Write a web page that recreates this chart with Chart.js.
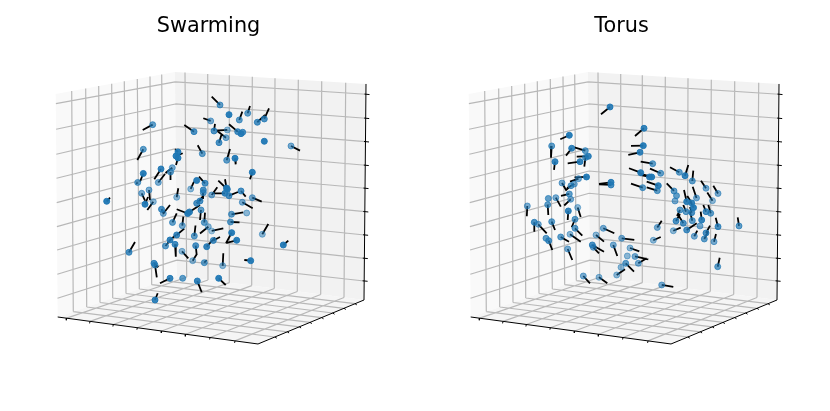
<!DOCTYPE html>
<html>
<head>
<meta charset="utf-8">
<title>Swarming and Torus</title>
<script src="https://cdn.jsdelivr.net/npm/chart.js@4/dist/chart.umd.min.js"></script>
<style>
  html, body { margin: 0; padding: 0; background: #ffffff; overflow: hidden; }
  canvas { display: block; float: left; }
</style>
</head>
<body>
<canvas id="swarmChart" width="417" height="411"></canvas>
<canvas id="torusChart" width="409" height="411"></canvas>
<script>
// values, in projected plot units
const swarmHeadX = [152.7,143.3,143.3,137.7,161,158.3,172.3,170.5,178,176,178,194,202.3,210.7,214,219,226,227.3,220,229,239.3,247.7,257.3,264.3,237.7,241,242.7,264.3,291,226.7,235,252.3,227.3,226.5,225,229,211.7,241,252.3,242.3,190.7,196.7,205,203.3,203.3,176.7,149,141.7,145,153.3,161.5,163.3,172.5,182.3,187.7,189.5,200,196.7,201,204.3,208.3,211.7,194.3,195.7,192.7,206.7,213.3,204.3,176.7,170,165.5,175,182,129,155,154,155,170,182.7,197.3,218.7,250.7,222.7,283.3,262.3,236.7,231.7,231.5,246.7,230.5,106.7];
const swarmHeadY = [124.7,149.3,173.5,182.5,169,182.5,167.7,172,152,156,158,131.7,153.7,121,131,142.7,137.7,130,105,114.7,120,113.3,122.3,119,131.7,133.7,132.3,141.3,146,160.3,158.3,172.3,189.3,188,193.3,195.7,195,191,197.7,202.3,189,180.5,183.3,190,192.7,197.3,190,193.3,204.3,201.7,209.3,213.5,222.5,225.7,213.5,212,201,203.3,210,222.5,226.7,231,236,245.7,260.7,246.7,240.5,262.7,235,240,246,244.3,251.3,252.3,300,263.3,265,278.3,278.3,281,278.3,260.7,265.7,245,234.3,240.3,232.7,214.3,213,222,201.3];
const swarmTailX = [142.7,137.3,140,137,154.3,165,165.5,170.5,175,182.7,176,184.3,197.7,203.3,215,221.7,217.3,216.7,211.7,229,242.3,250,265,269,229,241,242.7,264.3,300,230,235.7,250,218.3,225,213.3,238,217.3,245.7,261.7,252.7,194,196.7,199,203.3,203,178.3,150,145,148,147.3,164,170,176.7,183.3,176.7,200,203,203,200,205,200,223.3,195.5,196.7,196.7,215,220,206.7,184.3,176,171.7,175.8,188.3,135,157.7,158.3,156.8,160,182.7,201.7,225.7,244.3,223.3,288.3,268.3,226.5,226,243.3,246.7,239.5,110];
const swarmTailY = [130,160,181.7,183,179.3,174,173,180,149.3,153.3,165,125,145.3,118.3,124,134,131,130.7,96.7,114.7,111.7,106,115,108.3,124.3,133.7,132.3,141.3,150.7,149,164.3,179.3,180.7,179.3,193.3,192,187.3,196.7,201.7,208.3,181.7,180.5,176.7,190,199,188.3,200,200.7,197,210,214,205,213.3,216.7,209.3,205,196,196.5,220,212.7,233.5,228.5,225.5,255,254.3,237.5,237,260,228.7,235,238.3,256.7,258.3,242,293.3,267.3,277.3,283.3,278.3,292.3,285,260,253.3,240.7,224,243,243.3,212.3,213,222.3,197.7];
const swarmAlpha = [0.7,0.7,0.95,0.7,0.9,0.6,0.6,0.7,0.95,0.95,0.95,0.8,0.7,0.6,0.8,0.8,0.6,0.5,0.7,0.95,0.7,0.7,0.8,0.8,0.8,0.9,0.8,0.95,0.6,0.7,0.95,0.95,0.95,0.95,0.9,0.8,0.6,0.8,0.6,0.6,0.5,0.95,0.8,0.8,0.7,0.5,0.6,0.6,0.95,0.5,0.8,0.6,0.7,0.6,0.95,0.9,0.8,0.8,0.7,0.7,0.5,0.4,0.7,0.8,0.5,0.9,0.8,0.7,0.85,0.9,0.7,0.85,0.5,0.8,0.9,0.8,0.7,0.9,0.7,0.9,0.95,0.95,0.5,0.95,0.5,0.95,0.95,0.7,0.5,0.7,0.95];

const torusHeadX = [610,569.3,551.7,571.7,585.3,588.3,585.5,580,555,586.5,578.5,574.3,571,562,611,611,569.3,570.7,548.3,547.7,555.8,527.3,577.7,568.3,575,534.3,538.3,551.7,575,570,560.7,546,548.7,567.7,603.3,596,621.7,592.3,593.3,613.3,630,627.3,635,638.3,625.7,621,616.7,583.3,599,644,643.3,640,652.7,660.7,640.7,651.7,649.5,658.3,657.3,642.7,679.3,685,692.3,706,718,712.5,674,676.5,675,686.7,696.5,691.7,693.5,691.7,680,686,706,710.7,657.3,676,683.3,692.3,701.7,700,686.7,673.3,694.3,706,704.3,718,714,739,653.3,717.7,661.7];
const torusHeadY = [107,135.3,146,148.3,150.7,156.3,157.5,161.7,161.7,177,178.7,184,185.7,183,182.3,185,194,199.3,198.5,204.7,197.7,206,207.5,211,219.3,222.3,224.3,221.7,228.3,234.3,237,238.3,240.7,249,228.3,235,238.3,245,247.3,245,248,256,256.5,263.3,263.3,267.3,275,276,277.3,128.3,145.7,152.3,163.7,173.3,172.7,177,177,185.7,190.7,187.7,172.3,175.7,181,188.3,193.5,200.7,191,195.7,201,201.7,198,203,207.7,212.7,210,211.7,211.7,213.3,227.5,221,223.3,220.7,220,226,230,230.8,236.3,233,239,226.7,241.7,226,240.3,266.7,285];
const torusTailX = [601,560.3,551,566,574.3,576.7,584.3,567.7,554,574.5,570,567,565.5,566.5,599,599,561,564.2,548.3,548.3,560.8,526.8,580.7,567.7,571.7,534.3,546.7,555,582.3,580.7,569,546,552.3,572.3,614.3,604,634.3,604,599,617.3,639.3,627.3,648.3,646.7,634,621,625,590,607.3,635,631,628.3,640.7,650,629,639,640,646.7,646.7,631,670,688.3,693.3,701,713.3,707.3,666.7,676.5,675,684,692.7,687.3,690,690,677,683.3,703.3,708.3,661.7,680,678.3,690,700.7,700,696.7,680.7,697.3,710,708.3,715.7,716,737.7,660.7,719.7,673.3];
const torusTailY = [114.3,139.3,157.7,155.7,147.3,156.7,166.7,163.3,170,177.5,181.7,188,190.5,190.7,184,184.3,196,205.5,198.5,215,206.7,216.2,217,220,227.3,231.7,233.3,230,235.7,241.7,241.7,238.3,250,260,233.3,241.7,240,251.7,253.3,256,251.3,256,259.3,258.3,271.7,267.3,269.3,283.3,283.3,136,146,155,161.7,168.7,168.3,173.3,175,181.7,187.3,183.7,167.3,165,170.7,180.7,185.7,192.5,183.3,195.7,201,190,186.7,196,201,207,216,205,205,205,220.7,214,215,211.7,211.7,226,223.3,227.7,230.7,225.7,231,217.7,234,217.3,237,257.7,287];
const torusAlpha = [0.9,0.95,0.7,0.9,0.7,0.9,0.7,0.9,0.9,0.95,0.6,0.6,0.7,0.6,0.9,0.8,0.7,0.6,0.7,0.7,0.6,0.6,0.5,0.9,0.7,0.8,0.6,0.7,0.7,0.5,0.7,0.7,0.8,0.6,0.6,0.5,0.6,0.8,0.6,0.6,0.5,0.5,0.6,0.6,0.7,0.5,0.5,0.6,0.5,0.9,0.95,0.9,0.7,0.7,0.95,0.95,0.9,0.9,0.7,0.7,0.7,0.9,0.7,0.6,0.6,0.5,0.7,0.7,0.6,0.9,0.6,0.9,0.95,0.8,0.7,0.7,0.8,0.7,0.6,0.8,0.8,0.7,0.9,0.6,0.8,0.5,0.6,0.8,0.7,0.8,0.6,0.7,0.5,0.7,0.6];

// box outline and grid, same on both plots
const leftPane = [[55.7,94],[175,72],[177,276],[57.7,317]];
const rightPane = [[175,72],[366,84],[364,300],[177,276]];
const floorPane = [[57.7,317],[177,276],[364,300],[258,344]];

const leftTopX = [71.7,85.7,98.7,111.7,124.3,137.3,150,161.7];
const leftTopY = [91,88.5,86,83.7,81.4,79,76.6,74.5];
const leftBottomX = [73.3,86.7,100,112.7,126,139.3,151.7,163.3];
const leftBottomY = [311.6,307,302.5,298,293.5,289,284.7,280.6];

const rightTopX = [185,207.7,229.3,252.3,275,298.3,321.7,345.7];
const rightTopY = [72.6,74,75.4,76.8,78.3,79.7,81.2,82.7];
const rightBottomX = [186.7,208,229.3,251.7,274.3,297.3,320.7,344];
const rightBottomY = [277.3,280,282.7,285.6,288.5,291.5,294.5,297.5];

const rowLeftX = [55.9,56.1,56.3,56.5,56.7,56.9,57.1,57.3,57.5];
const rowLeftY = [103.7,129.3,154.3,178.3,202.7,226.7,250,274.3,298.3];
const rowBackX = [175.2,175.4,175.6,175.8,176,176.2,176.4,176.6,176.8];
const rowBackY = [82,104,126.4,148.7,171,193.3,215.6,237.9,260.2];
const rowRightX = [366,365.7,365.5,365.3,365,364.8,364.6,364.3,364.1];
const rowRightY = [94.3,118.3,141.7,165.3,188.3,211.7,235,258.3,281];

const frontLeftX = [66.7,90,113.3,137.3,161.7,185.7,210,235];
const frontLeftY = [318.2,321.4,324.5,327.7,331,334.3,337.5,340.9];
const frontRightX = [275,287.3,299.3,310,321.7,332.7,344,355];
const frontRightY = [337,331.8,326.8,322.4,317.6,313,308.3,303.7];

const edgeLines = [
  [[366,84],[364,300]],
  [[57.7,317],[258,344]],
  [[258,344],[364,300]]
];

// turns pairs of points into one broken line
function segments(pairs, shift) {
  const out = [];
  pairs.forEach(function (p) {
    out.push({ x: p[0][0] + shift, y: p[0][1] });
    out.push({ x: p[1][0] + shift, y: p[1][1] });
    out.push({ x: NaN, y: NaN });
  });
  return out;
}

function zipPairs(ax, ay, bx, by) {
  return ax.map(function (x, i) {
    return [[x, ay[i]], [bx[i], by[i]]];
  });
}

function lineSet(pairs, shift, color, width) {
  return {
    data: segments(pairs, shift),
    showLine: true,
    spanGaps: false,
    borderColor: color,
    borderWidth: width,
    pointRadius: 0
  };
}

// the panes are polygons, Chart.js has no dataset for those
const panePlugin = {
  id: "panes",
  beforeDatasetsDraw: function (chart, args, opts) {
    const ctx = chart.ctx;
    const xs = chart.scales.x;
    const ys = chart.scales.y;
    [[leftPane, "#f9f9f9"], [rightPane, "#f2f2f2"], [floorPane, "#f5f5f5"]].forEach(function (pane) {
      ctx.beginPath();
      pane[0].forEach(function (p, i) {
        const px = xs.getPixelForValue(p[0] + opts.shift);
        const py = ys.getPixelForValue(p[1]);
        if (i === 0) ctx.moveTo(px, py);
        else ctx.lineTo(px, py);
      });
      ctx.closePath();
      ctx.fillStyle = pane[1];
      ctx.fill();
    });
  }
};

function drawPlot(id, titleText, shift, xMin, xMax, headX, headY, tailX, tailY, alpha) {
  const gridColor = "#b8b8b8";
  const gridPairs = []
    .concat(zipPairs(leftTopX, leftTopY, leftBottomX, leftBottomY))
    .concat(zipPairs(rightTopX, rightTopY, rightBottomX, rightBottomY))
    .concat(zipPairs(rowLeftX, rowLeftY, rowBackX, rowBackY))
    .concat(zipPairs(rowBackX, rowBackY, rowRightX, rowRightY))
    .concat(zipPairs(leftBottomX, leftBottomY, frontRightX, frontRightY))
    .concat(zipPairs(rightBottomX, rightBottomY, frontLeftX, frontLeftY));

  const tickPairs = []
    .concat(rowRightX.map(function (x, i) { return [[x - 1.5, rowRightY[i] - 0.2], [x + 3.5, rowRightY[i] + 0.3]]; }))
    .concat(frontLeftX.map(function (x, i) { return [[x, frontLeftY[i]], [x - 0.4, frontLeftY[i] + 2]]; }))
    .concat(frontRightX.map(function (x, i) { return [[x, frontRightY[i]], [x + 1.8, frontRightY[i] + 1.2]]; }));

  const arrows = zipPairs(headX, headY, tailX, tailY);

  const layers = [
    lineSet(gridPairs, shift, gridColor, 1.2),
    lineSet(edgeLines, shift, "#000000", 1),
    lineSet(tickPairs, shift, "#000000", 1),
    lineSet(arrows, 0, "#000000", 1.8),
    {
      data: headX.map(function (x, i) { return { x: x, y: headY[i] }; }),
      pointRadius: 3,
      pointBorderWidth: 1,
      pointBackgroundColor: alpha.map(function (a) { return "rgba(31,119,180," + a + ")"; }),
      pointBorderColor: alpha.map(function (a) { return "rgba(31,119,180," + a + ")"; }),
      showLine: false
    }
  ];
  // first dataset is painted last by default, so set the order by hand
  layers.forEach(function (d, i) { d.order = layers.length - i; });

  new Chart(document.getElementById(id).getContext("2d"), {
    type: "scatter",
    data: { datasets: layers },
    plugins: [panePlugin],
    options: {
      responsive: false,
      animation: false,
      layout: { padding: 0, autoPadding: false },
      plugins: {
        legend: { display: false },
        tooltip: { enabled: false },
        panes: { shift: shift },
        title: {
          display: true,
          text: titleText,
          color: "#000000",
          font: { family: "'DejaVu Sans'", size: 20.8, weight: "normal" },
          padding: { top: 14, bottom: 15 }
        }
      },
      scales: {
        x: { type: "linear", display: false, min: xMin, max: xMax },
        y: { type: "linear", display: false, min: 54, max: 411, reverse: true }
      }
    }
  });
}

drawPlot("swarmChart", "Swarming", 0, 0, 417, swarmHeadX, swarmHeadY, swarmTailX, swarmTailY, swarmAlpha);
drawPlot("torusChart", "Torus", 413, 417, 826, torusHeadX, torusHeadY, torusTailX, torusTailY, torusAlpha);
</script>
</body>
</html>
